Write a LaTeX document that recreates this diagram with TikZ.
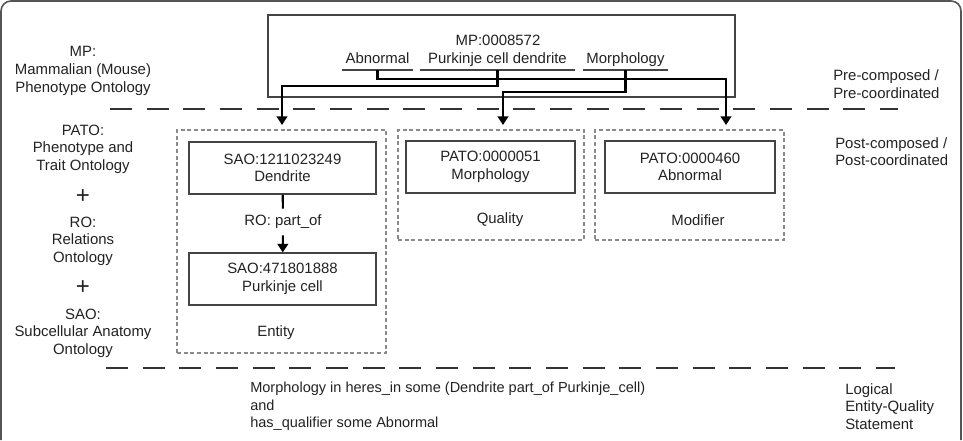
\documentclass[tikz,border=0pt]{standalone}
\usepackage{fontspec}
\setmainfont{Liberation Sans}
\usetikzlibrary{arrows.meta}
\definecolor{ink}{HTML}{222222}
\definecolor{framecol}{HTML}{555555}
\definecolor{boxline}{HTML}{444444}
\definecolor{grpline}{HTML}{8A8A8A}
\definecolor{sepcol}{HTML}{333333}
\tikzset{
  lbl/.style={align=center, inner sep=0pt, text=ink, font=\fontsize{11.2}{13.2}\selectfont},
  idbox/.style={lbl, draw=boxline, line width=0.8pt, minimum height=39pt},
  grpbox/.style={draw=grpline, line width=0.8pt, dash pattern=on 3pt off 2pt, inner sep=0pt},
  term/.style={lbl, text height=8pt, text depth=2.5pt, inner ysep=2.5pt, anchor=south},
  conn/.style={draw=black, line width=1.6pt, -{Triangle[width=8pt,length=6.5pt]}},
  divider/.style={draw=sepcol, line width=0.9pt, dash pattern=on 16.5pt off 11pt},
  uline/.style={draw=boxline, line width=0.8pt},
}
\begin{document}
\begin{tikzpicture}[x=0.75pt, y=-0.75pt]
\useasboundingbox (0,0) rectangle (963,440);
% outer frame
\draw[framecol, line width=1.2pt, rounded corners=7.5pt] (1,440) -- (1,1) -- (961,1) -- (961,440);

% left column
\node[lbl] (mpname) at (83,71) {MP:\\Mammalian (Mouse)\\Phenotype Ontology};
\node[lbl] (patoname) at (83,149) {PATO:\\Phenotype and\\Trait Ontology};
\node[lbl, font=\fontsize{18}{18}\selectfont] (plusa) at (83,197) {+};
\node[lbl] (roname) at (83,241) {RO:\\Relations\\Ontology};
\node[lbl, font=\fontsize{18}{18}\selectfont] (plusb) at (83,288) {+};
\node[lbl] (saoname) at (83,333) {SAO:\\Subcellular Anatomy\\Ontology};

% right column
\node[lbl, align=left, anchor=west] (precomp) at (833,84) {Pre-composed /\\Pre-coordinated};
\node[lbl, align=left, anchor=west] (postcomp) at (835,151.5) {Post-composed /\\Post-coordinated};
\node[lbl, align=left, anchor=west] (logical) at (845,406.5) {Logical\\Entity-Quality\\Statement};

% pre-composed term
\node[draw=boxline, line width=0.8pt, minimum width=350.25pt, minimum height=61.5pt] (mpbox) at (501.5,56) {};
\node[lbl] (mpid) at (498,40) {MP:0008572};
\node[term, minimum width=53.25pt] (abn) at (377.5,70) {Abnormal};
\node[term, minimum width=116.25pt] (pur) at (497.5,70) {Purkinje cell dendrite};
\node[term, minimum width=63.75pt] (mor) at (625.5,70) {Morphology};
\draw[uline] (abn.south west) -- (abn.south east);
\draw[uline] (pur.south west) -- (pur.south east);
\draw[uline] (mor.south west) -- (mor.south east);

% separators
\draw[divider] (110,109) -- (898,109);
\draw[divider] (106,368) -- (895,368);

% post-composed groups
\node[grpbox, minimum width=156.75pt, minimum height=167.25pt] (entity) at (281.5,241.5) {};
\node[grpbox, minimum width=139.5pt, minimum height=82.5pt] (quality) at (491,185) {};
\node[grpbox, minimum width=141.75pt, minimum height=82.5pt] (modifier) at (689.5,185) {};
\node[idbox, minimum width=140.25pt] (dend) at (282.5,168) {SAO:1211023249\\Dendrite};
\node[idbox, minimum width=140.25pt] (pkc) at (282.5,279) {SAO:471801888\\Purkinje cell};
\node[idbox, minimum width=126.75pt] (morq) at (490.5,167) {PATO:0000051\\Morphology};
\node[idbox, minimum width=127.5pt] (abnq) at (690,167) {PATO:0000460\\Abnormal};
\node[lbl] (entlbl) at (276,333) {Entity};
\node[lbl] (quallbl) at (500,220) {Quality};
\node[lbl] (modlbl) at (698,220) {Modifier};

% part_of relation
\node[lbl, text height=8pt, text depth=2.5pt, inner ysep=4.5pt] (partof) at (283,222) {RO: part\_of};
\draw[black, line width=1.6pt] (dend) -- (partof);
\draw[conn] (partof) -- (pkc);

% decomposition arrows
\coordinate (entin) at (282,125);
\coordinate (qualin) at (503,125);
\coordinate (modin) at (726,125);
\draw[conn] (abn.south) -- ++(0,9) -| (modin);
\draw[conn] (pur.south) -- ++(0,16) -| (entin);
\draw[conn] (mor.south) -- ++(0,22) -| (qualin);

% logical statement
\node[lbl, align=left, anchor=west, font=\fontsize{10.9}{13.2}\selectfont] (stmt) at (250,406.5)
  {Morphology in heres\_in some (Dendrite part\_of Purkinje\_cell)\\and\\has\_qualifier some Abnormal};
\end{tikzpicture}
\end{document}
